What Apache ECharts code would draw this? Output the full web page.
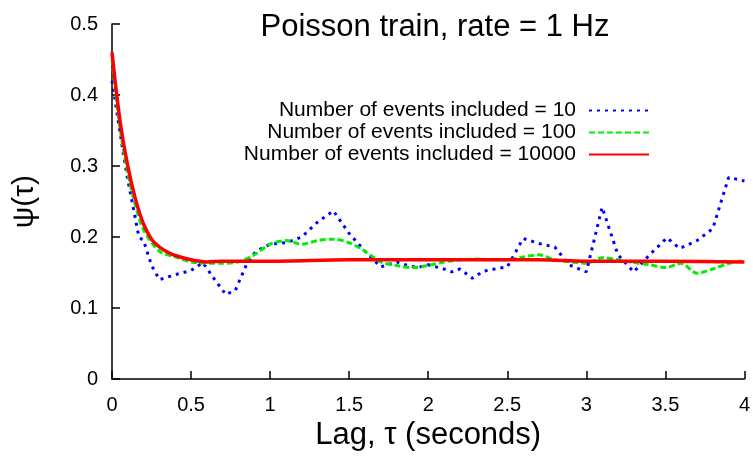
<!DOCTYPE html>
<html>
<head>
<meta charset="utf-8">
<script src="https://cdn.jsdelivr.net/npm/echarts@6/dist/echarts.min.js"></script>
<style>
  html, body { margin: 0; padding: 0; background: #fff; }
  #chart { width: 753px; height: 456px; }
</style>
</head>
<body>
<div id="chart"></div>
<script>
// lag values (seconds) and psi(tau) for each run
const lagN10 = [0, 0.07, 0.1, 0.134, 0.17, 0.2, 0.25, 0.3, 0.4, 0.5, 0.575, 0.65, 0.72, 0.78, 0.85, 0.91, 1.0, 1.1, 1.2, 1.3, 1.4, 1.5, 1.6, 1.7, 1.8, 1.87, 1.93, 2.0, 2.1, 2.15, 2.2, 2.28, 2.35, 2.42, 2.5, 2.6, 2.7, 2.8, 2.89, 3.0, 3.1, 3.2, 3.3, 3.4, 3.51, 3.59, 3.7, 3.8, 3.9, 4.0];
const psiN10 = [0.42, 0.32, 0.28, 0.242, 0.2, 0.195, 0.16, 0.14, 0.147, 0.153, 0.164, 0.14, 0.119, 0.125, 0.161, 0.18, 0.19, 0.192, 0.2, 0.221, 0.237, 0.205, 0.18, 0.158, 0.165, 0.16, 0.157, 0.161, 0.155, 0.151, 0.155, 0.142, 0.152, 0.155, 0.158, 0.198, 0.191, 0.186, 0.161, 0.151, 0.242, 0.175, 0.151, 0.175, 0.199, 0.184, 0.195, 0.212, 0.284, 0.279];

const lagN100 = [0, 0.05, 0.1, 0.15, 0.2, 0.3, 0.4, 0.5, 0.6, 0.7, 0.8, 0.9, 1.0, 1.1, 1.2, 1.3, 1.4, 1.5, 1.6, 1.7, 1.8, 1.9, 2.0, 2.1, 2.2, 2.3, 2.4, 2.5, 2.6, 2.7, 2.8, 2.9, 3.0, 3.1, 3.2, 3.3, 3.4, 3.5, 3.6, 3.7, 3.8, 3.9, 4.0];
const psiN100 = [0.45, 0.355, 0.29, 0.243, 0.21, 0.18, 0.172, 0.165, 0.163, 0.163, 0.165, 0.175, 0.19, 0.195, 0.19, 0.195, 0.197, 0.192, 0.18, 0.165, 0.16, 0.157, 0.16, 0.165, 0.168, 0.169, 0.168, 0.168, 0.172, 0.175, 0.168, 0.165, 0.163, 0.171, 0.168, 0.164, 0.161, 0.157, 0.163, 0.149, 0.155, 0.163, 0.167];

const lagN10000 = [0, 0.05, 0.1, 0.15, 0.2, 0.25, 0.3, 0.35, 0.4, 0.5, 0.6, 0.7, 1.0, 1.5, 2.0, 2.5, 2.7, 3.0, 3.5, 4.0];
const psiN10000 = [0.46, 0.365, 0.3, 0.252, 0.218, 0.197, 0.186, 0.179, 0.174, 0.168, 0.165, 0.166, 0.166, 0.168, 0.168, 0.168, 0.168, 0.166, 0.166, 0.165];

const xTicks = [0, 0.5, 1, 1.5, 2, 2.5, 3, 3.5, 4];
const yTicks = [0, 0.1, 0.2, 0.3, 0.4, 0.5];

const seriesNames = [
  "Number of events included = 10",
  "Number of events included = 100",
  "Number of events included = 10000"
];

const pairs = function(xs, ys) {
  return xs.map((x, i) => [x, ys[i]]);
};

const font = "Liberation Sans, Arial, Helvetica, sans-serif";

const chart = echarts.init(document.getElementById("chart"));

// one legend per row so the line samples line up on the right
const legendFor = function(name, top) {
  return {
    data: [name],
    right: 103,
    top: top,
    align: "right",
    itemWidth: 60,
    itemHeight: 14,
    padding: 0,
    itemStyle: { color: "rgba(0,0,0,0)", borderWidth: 0 },
    textStyle: {
      fontFamily: font,
      fontSize: 21,
      color: "#000",
      padding: [0, 8, 0, 0]
    }
  };
};

chart.setOption({
  animation: false,
  backgroundColor: "#fff",
  title: {
    text: "Poisson train, rate = 1 Hz",
    left: 430,
    top: 7,
    textAlign: "center",
    textStyle: {
      fontFamily: font,
      fontSize: 31,
      fontWeight: "normal",
      color: "#000"
    }
  },
  legend: [
    legendFor(seriesNames[0], 100),
    legendFor(seriesNames[1], 122),
    legendFor(seriesNames[2], 144)
  ],
  grid: {
    left: 112,
    right: 5,
    top: 24,
    bottom: 72,
    containLabel: false
  },
  xAxis: {
    type: "value",
    min: 0,
    max: 4,
    interval: 0.5,
    name: "Lag, τ (seconds)",
    nameLocation: "middle",
    nameGap: 40,
    nameTextStyle: { fontFamily: font, fontSize: 31, color: "#000" },
    splitLine: { show: false },
    axisLine: { lineStyle: { color: "#000", width: 1.5 } },
    axisTick: { inside: true, length: 8, lineStyle: { color: "#000", width: 1.5 } },
    axisLabel: {
      fontFamily: font,
      fontSize: 20,
      color: "#000",
      margin: 16,
      showMaxLabel: true,
      formatter: function(v) { return xTicks.indexOf(v) >= 0 ? String(v) : ""; }
    }
  },
  yAxis: {
    type: "value",
    min: 0,
    max: 0.5,
    interval: 0.1,
    name: "ψ(τ)",
    nameLocation: "middle",
    nameRotate: 90,
    nameGap: 72,
    nameTextStyle: { fontFamily: font, fontSize: 30, color: "#000" },
    splitLine: { show: false },
    axisLine: { show: true, lineStyle: { color: "#000", width: 1.5 } },
    axisTick: { show: true, inside: true, length: 8, lineStyle: { color: "#000", width: 1.5 } },
    axisLabel: {
      fontFamily: font,
      fontSize: 20,
      color: "#000",
      margin: 14,
      formatter: function(v) {
        const t = yTicks.find(y => Math.abs(y - v) < 1e-9);
        return t === undefined ? "" : String(t);
      }
    }
  },
  series: [
    {
      name: seriesNames[0],
      type: "line",
      symbol: "none",
      data: pairs(lagN10, psiN10),
      color: "#0000ff",
      lineStyle: { color: "#0000ff", width: 3, type: [3, 5] },
      z: 2
    },
    {
      name: seriesNames[1],
      type: "line",
      symbol: "none",
      smooth: 0.3,
      data: pairs(lagN100, psiN100),
      color: "#00ee00",
      lineStyle: { color: "#00ee00", width: 3, type: [6, 3] },
      z: 3
    },
    {
      name: seriesNames[2],
      type: "line",
      symbol: "none",
      smooth: 0.3,
      data: pairs(lagN10000, psiN10000),
      color: "#ff0000",
      lineStyle: { color: "#ff0000", width: 3.5 },
      z: 4
    }
  ]
});
</script>
</body>
</html>
